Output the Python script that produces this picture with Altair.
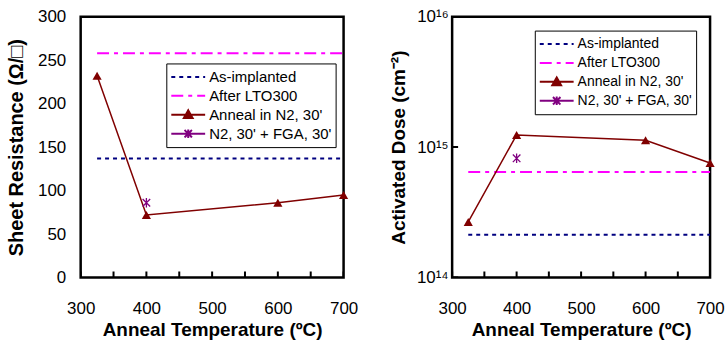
import altair as alt
import pandas as pd

# ---------------- data ----------------
temps = [325, 400, 600, 700]
rs_anneal = [232, 72, 86, 95]
dose_anneal = [2.67e14, 1.24e15, 1.13e15, 7.55e14]

fga_temp = [400]
rs_fga = [86]
dose_fga = [8.2e14]

ref_names = ["As-implanted", "After LTO300"]
ref_rs = [137, 258]
ref_dose = [2.13e14, 6.45e14]
ref_start = [325, 325]
ref_end = [700, 700]

series = ["As-implanted", "After LTO300", "Anneal in N2, 30'", "N2, 30' + FGA, 30'"]
series_colors = ["#000080", "#FF00FF", "#800000", "#800080"]
series_dash = [[4, 4], [12, 5, 4, 5], [1, 0], [1, 0]]
legend_paths = [
    "M-1,0H1",
    "M-1,0H1",
    "M-1,0H1M0,-0.26L0.26,0.2L-0.26,0.2Z",
    "M-1,0H1M0,-0.25V0.25M-0.22,-0.22L0.22,0.22M-0.22,0.22L0.22,-0.22",
]
asterisk_path = "M0,-1V1M-0.8,-0.8L0.8,0.8M-0.8,0.8L0.8,-0.8"

x_ticks = [300, 350, 400, 450, 500, 550, 600, 650, 700]
rs_ticks = [0, 50, 100, 150, 200, 250, 300]
dose_ticks = [1e14, 1e15, 1e16]
dose_tick_labels = ["10¹⁴", "10¹⁵", "10¹⁶"]

# ---------------- tables ----------------
anneal_df = pd.DataFrame({"T": temps, "rs": rs_anneal, "dose": dose_anneal})
fga_df = pd.DataFrame({"T": fga_temp, "rs": rs_fga, "dose": dose_fga})
ref_df = pd.DataFrame({"series": ref_names, "rs": ref_rs, "dose": ref_dose,
                       "start": ref_start, "end": ref_end})
legend_df = pd.DataFrame({"series": series})
xtick_df = pd.DataFrame({"T": x_ticks})
dtick_df = pd.DataFrame({"dose": dose_ticks})

FONT = "Liberation Sans"

x_scale = alt.Scale(domain=[300, 700], nice=False)
x_axis = alt.Axis(values=x_ticks,
                  labelExpr="datum.value % 100 == 0 ? datum.label : ''",
                  ticks=False, domain=False, grid=False, labelPadding=23,
                  labelFlush=False, labelFontSize=17, titleFontSize=19,
                  titleFontWeight="bold", titlePadding=4)
x_title = "Anneal Temperature (ºC)"


def make_legend(lx, ly, fs):
    return alt.Legend(title=None, orient="none", legendX=lx, legendY=ly,
                      direction="vertical", labelFont=FONT, labelFontSize=fs,
                      labelColor="black", symbolSize=1156, symbolStrokeWidth=2,
                      symbolOpacity=1, symbolFillColor=series_colors[2],
                      symbolStrokeColor=series_colors[2],
                      clipHeight=19, padding=4, strokeColor="black",
                      fillColor="white", labelOffset=3, symbolOffset=0,
                      rowPadding=0, labelLimit=300)


def panel(yfield, ytitle, y_scale, y_axis, y_min, lx, ly, fs, w, h, ytick_layer=None):
    leg = make_legend(lx, ly, fs)
    X = alt.X("T:Q", scale=x_scale, axis=x_axis, title=x_title)
    Y = alt.Y(f"{yfield}:Q", scale=y_scale, axis=y_axis, title=ytitle)

    # legend-defining layer (no visible marks)
    dummy = alt.Chart(legend_df).transform_filter("false").mark_point(
        filled=True, opacity=0, strokeWidth=2).encode(
        shape=alt.Shape("series:N", scale=alt.Scale(domain=series, range=legend_paths), legend=leg),
        fill=alt.Fill("series:N", scale=alt.Scale(domain=series, range=series_colors), legend=leg),
        stroke=alt.Stroke("series:N", scale=alt.Scale(domain=series, range=series_colors), legend=leg),
        strokeDash=alt.StrokeDash("series:N", scale=alt.Scale(domain=series, range=series_dash), legend=leg),
    )

    layers = [dummy]
    # inward x tick marks along the bottom frame (outer half clipped away)
    layers.append(alt.Chart(xtick_df).mark_tick(
        orient="vertical", size=12, thickness=2, color="black", opacity=1,
        clip=True).encode(
        x=X, y=alt.Y(datum=y_min, scale=y_scale, axis=y_axis, title=ytitle)))
    if ytick_layer is not None:
        layers.append(ytick_layer)
    for i, name in enumerate(ref_names):
        layers.append(
            alt.Chart(ref_df).transform_filter(alt.datum.series == name).mark_rule(
                strokeWidth=2, color=series_colors[i], strokeDash=series_dash[i]).encode(
                x=alt.X("start:Q", scale=x_scale, axis=x_axis, title=x_title),
                x2="end:Q",
                y=Y,
            )
        )
    layers.append(alt.Chart(anneal_df).mark_line(
        color=series_colors[2], strokeWidth=1.5).encode(x=X, y=Y))
    layers.append(alt.Chart(anneal_df).mark_point(
        shape="triangle-up", filled=True, size=85, color=series_colors[2],
        opacity=1).encode(x=X, y=Y))
    layers.append(alt.Chart(fga_df).mark_point(
        shape=asterisk_path, filled=False, size=90, color=series_colors[3],
        strokeWidth=1.3, opacity=1).encode(x=X, y=Y))
    return alt.layer(*layers).properties(width=w, height=h)


left_y_axis = alt.Axis(values=rs_ticks, ticks=False, domain=False, grid=False,
                       labelPadding=15, labelFontSize=17, labelFlush=False,
                       titleFontSize=20, titleFontWeight="bold", titlePadding=11)
left_y_scale = alt.Scale(domain=[0, 300], nice=False, zero=True)
left = panel("rs", "Sheet Resistance (Ω/□)", left_y_scale, left_y_axis, 0,
             86, 47, 15, 264, 262)

lbl_expr = ("datum.value < 3e14 ? '%s' : datum.value < 3e15 ? '%s' : '%s'"
            % tuple(dose_tick_labels))
right_y_axis = alt.Axis(values=dose_ticks, labelExpr=lbl_expr, ticks=False,
                        domain=False, grid=False, labelPadding=4, labelFontSize=17,
                        labelFlush=False, titleFontSize=19, titleFontWeight="bold",
                        titlePadding=8)
right_y_scale = alt.Scale(type="log", domain=[1e14, 1e16], nice=False)
right_ytick = alt.Chart(dtick_df).mark_tick(
    orient="horizontal", size=12, thickness=2, color="black", opacity=1,
    clip=True).encode(
    x=alt.X(datum=300, scale=x_scale, axis=x_axis, title=x_title),
    y=alt.Y("dose:Q", scale=right_y_scale, axis=right_y_axis,
            title="Activated Dose (cm⁻²)"))
right = panel("dose", "Activated Dose (cm⁻²)", right_y_scale, right_y_axis, 1e14,
              83, 14, 14, 259, 262, ytick_layer=right_ytick)

chart = alt.hconcat(left, right, spacing=28).resolve_scale(
    stroke="independent", strokeDash="independent", shape="independent",
    fill="independent"
).resolve_legend(
    stroke="independent", strokeDash="independent", shape="independent",
    fill="independent"
).configure(
    font=FONT,
    padding={"left": 5, "top": 5, "right": 0, "bottom": 0},
).configure_view(
    stroke="black", strokeWidth=2.5
).configure_axis(
    labelFont=FONT, titleFont=FONT, labelColor="black", titleColor="black"
)

chart.save("out.html", embed_options={"renderer": "svg", "actions": False})
